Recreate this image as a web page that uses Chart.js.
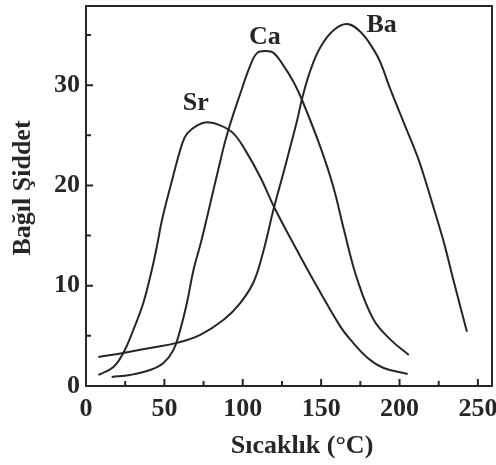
<!DOCTYPE html>
<html><head><meta charset="utf-8">
<script src="https://cdn.jsdelivr.net/npm/chart.js@4"></script>
<style>html,body{margin:0;padding:0;background:#fff}#wrap{width:496px;height:465px}</style>
</head><body><div id="wrap"><canvas id="c" width="496" height="465"></canvas></div>
<script>
// Temperature (°C) and relative intensity
const srX = [7.9, 17.5, 23.8, 30.2, 36.6, 42.0, 45.2, 48.4, 53.7, 61.4, 64.6, 71.0, 77.4, 85.7, 94.0, 101.7, 111.3, 120.8, 136.8, 149.6, 162.4, 168.8, 179.7, 189.9, 205.2];
const srY = [1.1, 1.9, 3.3, 5.6, 8.3, 11.6, 13.9, 16.5, 19.8, 24.2, 25.2, 26.0, 26.3, 26.0, 25.2, 23.5, 20.8, 17.6, 12.9, 9.3, 5.9, 4.6, 2.8, 1.8, 1.2];
const caX = [16.4, 28.1, 40.9, 49.4, 55.8, 60.1, 64.4, 68.6, 73.8, 83.8, 90.2, 98.5, 104.9, 109.1, 114.5, 119.8, 126.2, 132.5, 137.9, 149.6, 157.9, 164.5, 173.1, 183.5, 194.4, 205.9];
const caY = [0.9, 1.1, 1.6, 2.3, 3.6, 5.6, 8.3, 11.6, 14.6, 21.2, 25.2, 29.2, 32.0, 33.2, 33.4, 33.2, 31.9, 30.3, 28.5, 23.8, 19.8, 15.6, 10.6, 6.6, 4.6, 3.1];
const baX = [7.9, 23.8, 40.9, 58.0, 72.9, 87.8, 98.5, 107.0, 113.4, 119.6, 126.0, 130.4, 134.7, 137.9, 143.2, 149.6, 158.1, 166.7, 175.2, 183.7, 188.0, 194.4, 202.9, 211.4, 215.7, 222.1, 228.5, 234.0, 243.0];
const baY = [2.9, 3.3, 3.8, 4.3, 5.1, 6.6, 8.3, 10.4, 13.6, 17.6, 21.3, 23.9, 26.5, 28.7, 31.5, 33.8, 35.5, 36.1, 35.3, 33.5, 32.2, 29.5, 26.2, 22.9, 20.9, 17.6, 14.2, 10.8, 5.4];

const seriesNames = ['Sr', 'Ca', 'Ba'];
const labelX = [70.0, 114.1, 188.6];
const labelY = [27.5, 34.1, 35.3];

const xTickValues = [0, 50, 100, 150, 200, 250];
const xMinorTicks = [25, 75, 125, 175, 225];
const yTickValues = [0, 10, 20, 30];
const yMinorTicks = [5, 15, 25, 35];
const xTitle = 'Sıcaklık (°C)';
const yTitle = 'Bağıl Şiddet';

const INK = '#262626';
const FONT = 'bold 26px "Liberation Serif", "Times New Roman", serif';

function pts(xs, ys) { return xs.map((x, i) => ({x: x, y: ys[i]})); }
const seriesData = [pts(srX, srY), pts(caX, caY), pts(baX, baY)];

const decor = {
  id: 'decor',
  afterDatasetsDraw(chart) {
    const ctx = chart.ctx, a = chart.chartArea;
    const xs = chart.scales.x, ys = chart.scales.y;
    ctx.save();
    ctx.strokeStyle = INK;
    ctx.lineWidth = 2;
    ctx.strokeRect(a.left, a.top, a.right - a.left, a.bottom - a.top);
    ctx.beginPath();
    xTickValues.forEach(v => { const p = xs.getPixelForValue(v); ctx.moveTo(p, a.bottom); ctx.lineTo(p, a.bottom - 7); });
    xMinorTicks.forEach(v => { const p = xs.getPixelForValue(v); ctx.moveTo(p, a.bottom); ctx.lineTo(p, a.bottom - 5); });
    yTickValues.forEach(v => { const p = ys.getPixelForValue(v); ctx.moveTo(a.left, p); ctx.lineTo(a.left + 7, p); });
    yMinorTicks.forEach(v => { const p = ys.getPixelForValue(v); ctx.moveTo(a.left, p); ctx.lineTo(a.left + 5, p); });
    ctx.stroke();
    ctx.fillStyle = INK;
    ctx.font = FONT;
    ctx.textAlign = 'center';
    ctx.textBaseline = 'alphabetic';
    seriesNames.forEach((n, i) => {
      ctx.fillText(n, xs.getPixelForValue(labelX[i]), ys.getPixelForValue(labelY[i]));
    });
    ctx.textBaseline = 'middle';
    ctx.fillText(xTitle, 302, 446);
    ctx.translate(23, 188);
    ctx.rotate(-Math.PI / 2);
    ctx.fillText(yTitle, 0, 0);
    ctx.restore();
  }
};

new Chart(document.getElementById('c'), {
  type: 'scatter',
  data: {
    datasets: seriesData.map((d, i) => ({
      label: seriesNames[i],
      data: d,
      showLine: true,
      pointRadius: 0,
      borderColor: INK,
      borderWidth: 2,
      tension: 0.4,
      fill: false
    }))
  },
  options: {
    responsive: false,
    animation: false,
    devicePixelRatio: 1,
    layout: {padding: {left: 0, right: 4, top: 6, bottom: 0}},
    plugins: {legend: {display: false}, tooltip: {enabled: false}},
    scales: {
      x: {
        type: 'linear', position: 'bottom', min: 0, max: 259,
        afterBuildTicks: s => { s.ticks = xTickValues.map(v => ({value: v})); },
        afterFit: s => { s.height = 79; s.paddingLeft = 0; s.paddingRight = 0; },
        grid: {display: false, drawTicks: false},
        border: {display: false},
        ticks: {color: INK, padding: 8, maxRotation: 0, autoSkip: false,
                font: {family: '"Liberation Serif", "Times New Roman", serif', size: 26, weight: 'bold'}}
      },
      y: {
        type: 'linear', position: 'left', min: 0, max: 37.9,
        afterBuildTicks: s => { s.ticks = yTickValues.map(v => ({value: v})); },
        afterFit: s => { s.width = 86; s.paddingTop = 0; s.paddingBottom = 0; },
        grid: {display: false, drawTicks: false},
        border: {display: false},
        ticks: {color: INK, padding: 6,
                font: {family: '"Liberation Serif", "Times New Roman", serif', size: 26, weight: 'bold'}}
      }
    }
  },
  plugins: [decor]
});
</script>
</body></html>
